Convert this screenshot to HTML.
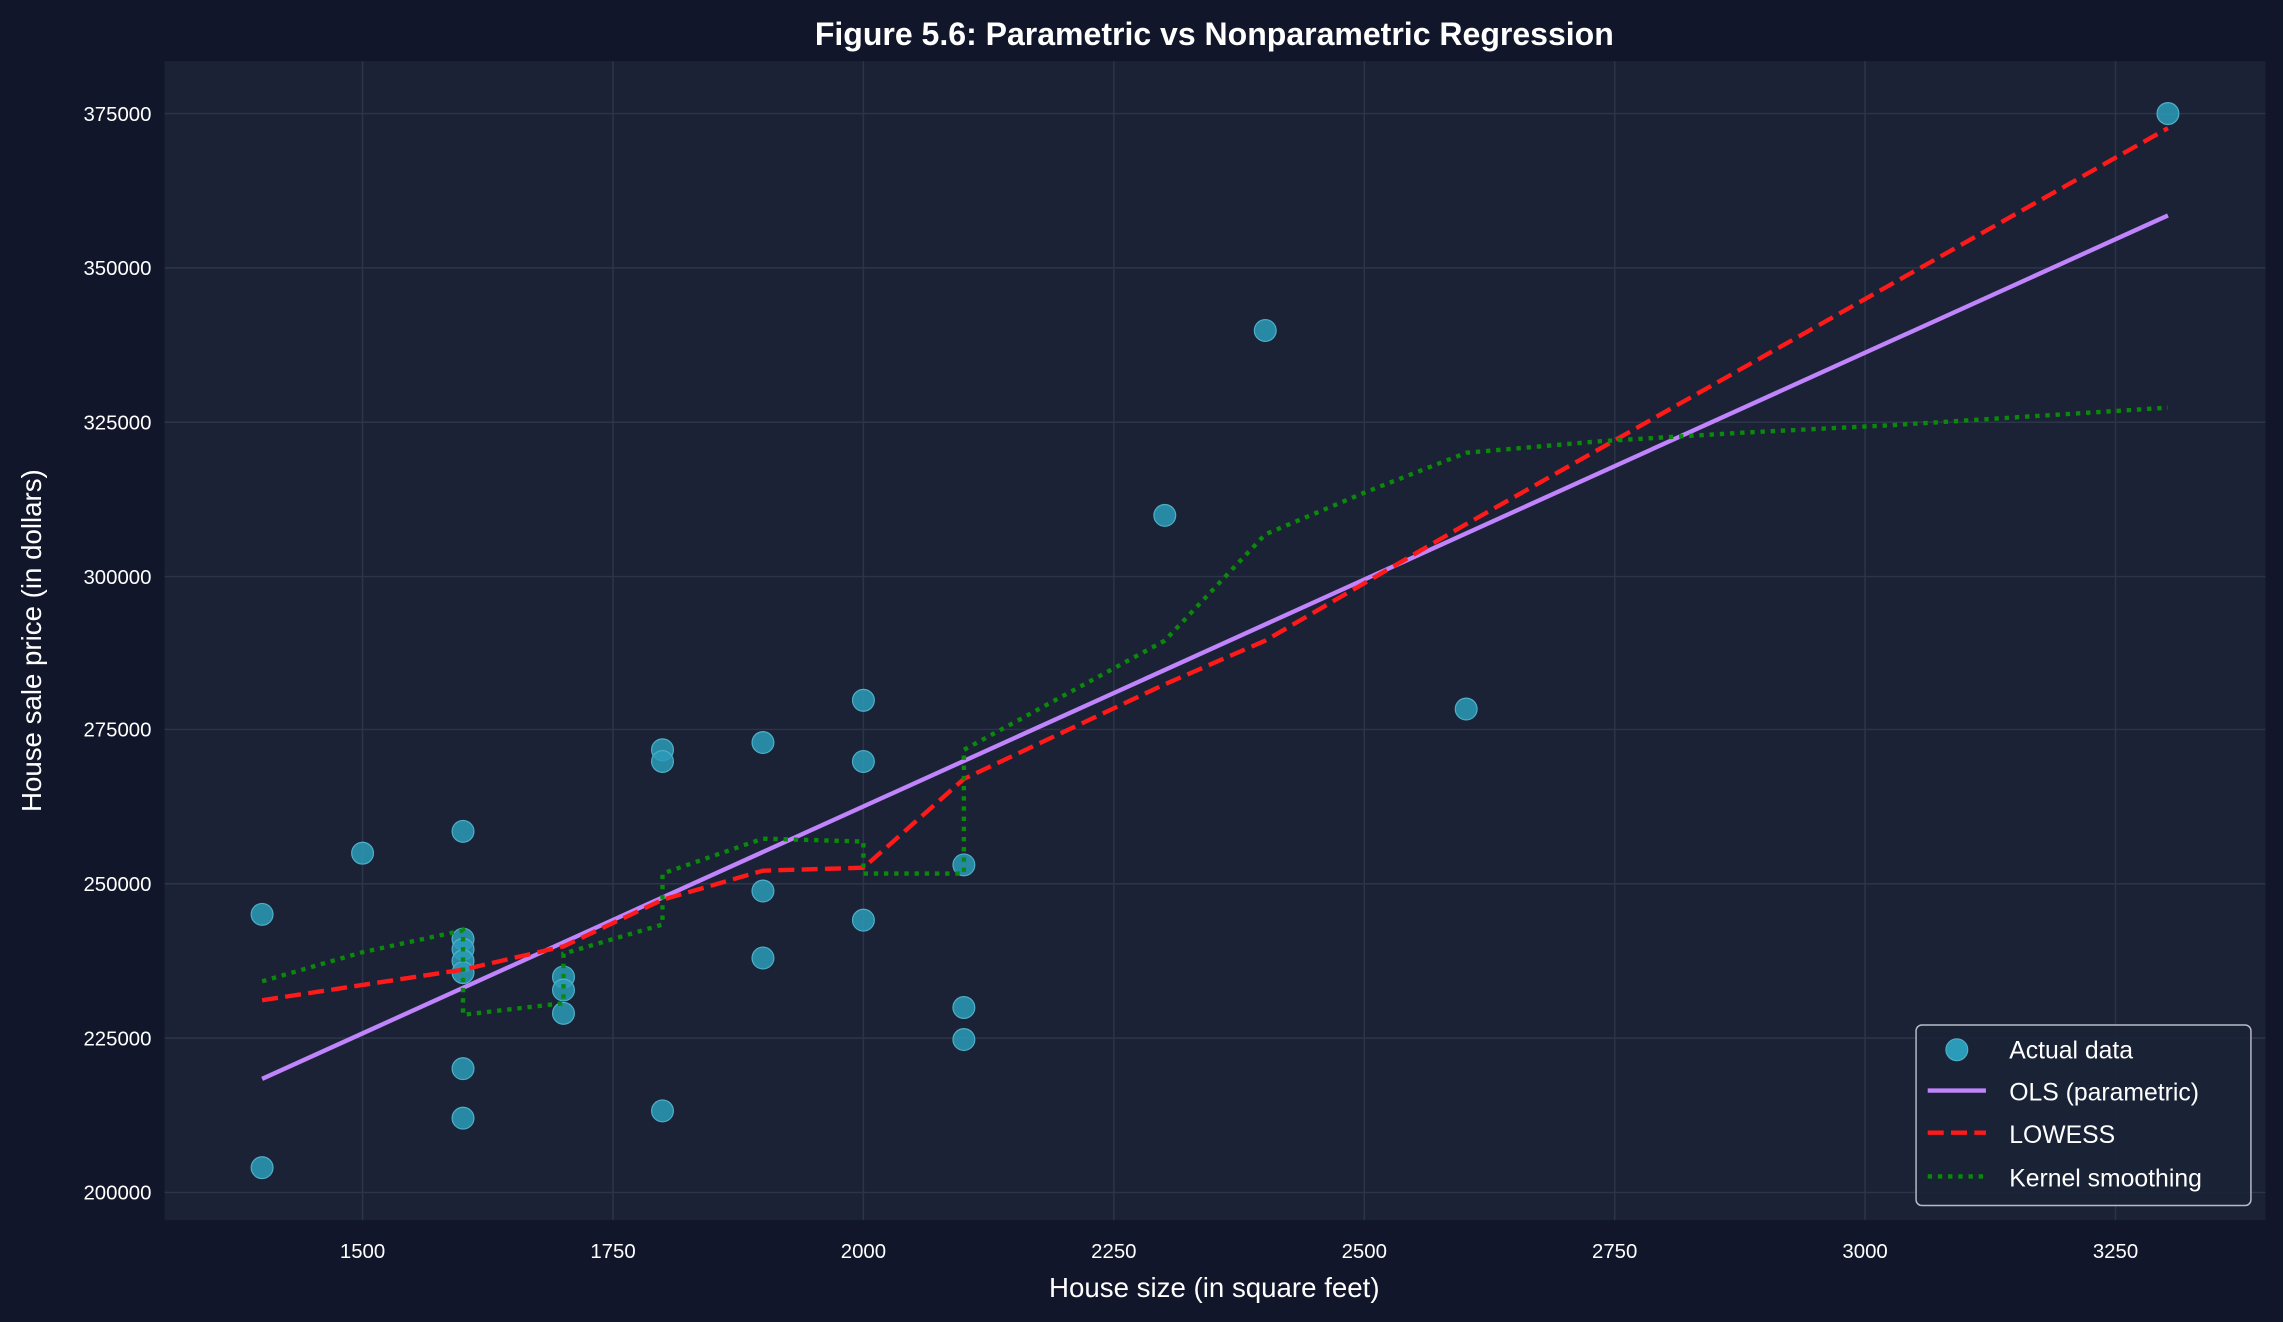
<!DOCTYPE html>
<html><head><meta charset="utf-8"><style>
html,body{margin:0;padding:0;background:#11162a;}
svg{display:block;}
text{font-family:"Liberation Sans",sans-serif;fill:#fff;}
</style></head><body>
<svg width="2283" height="1322" viewBox="0 0 1568 908" xmlns="http://www.w3.org/2000/svg">
<rect width="1568" height="908" fill="#11162a"/>
<rect x="113" y="42" width="1443" height="796" fill="#1b2236"/>
<g stroke="#2c3548" stroke-width="1">
<line x1="249" y1="42" x2="249" y2="838"/><line x1="421" y1="42" x2="421" y2="838"/>
<line x1="593" y1="42" x2="593" y2="838"/><line x1="765" y1="42" x2="765" y2="838"/>
<line x1="937" y1="42" x2="937" y2="838"/><line x1="1109" y1="42" x2="1109" y2="838"/>
<line x1="1281" y1="42" x2="1281" y2="838"/><line x1="1453" y1="42" x2="1453" y2="838"/>
<line x1="113" y1="819" x2="1556" y2="819"/><line x1="113" y1="713" x2="1556" y2="713"/>
<line x1="113" y1="607" x2="1556" y2="607"/><line x1="113" y1="501" x2="1556" y2="501"/>
<line x1="113" y1="396" x2="1556" y2="396"/><line x1="113" y1="290" x2="1556" y2="290"/>
<line x1="113" y1="184" x2="1556" y2="184"/><line x1="113" y1="78" x2="1556" y2="78"/>
</g>
<g font-size="14" text-anchor="middle">
<text x="249" y="864">1500</text><text x="421" y="864">1750</text><text x="593" y="864">2000</text>
<text x="765" y="864">2250</text><text x="937" y="864">2500</text><text x="1109" y="864">2750</text>
<text x="1281" y="864">3000</text><text x="1453" y="864">3250</text>
</g>
<g font-size="14" text-anchor="end">
<text x="104" y="824">200000</text><text x="104" y="718">225000</text><text x="104" y="612">250000</text>
<text x="104" y="506">275000</text><text x="104" y="401">300000</text><text x="104" y="295">325000</text>
<text x="104" y="189">350000</text><text x="104" y="83">375000</text>
</g>
<text x="834" y="891" font-size="19" text-anchor="middle">House size (in square feet)</text>
<text transform="translate(28,440) rotate(-90)" font-size="19" text-anchor="middle">House sale price (in dollars)</text>
<text x="834" y="31" font-size="22" font-weight="bold" text-anchor="middle">Figure 5.6: Parametric vs Nonparametric Regression</text>
<g fill="#2a9bb8" fill-opacity="0.85" stroke="#4fb0c8" stroke-width="0.8">
<circle cx="180" cy="628" r="7.5"/><circle cx="180" cy="802" r="7.5"/><circle cx="249" cy="586" r="7.5"/>
<circle cx="318" cy="571" r="7.5"/><circle cx="318" cy="645" r="7.5"/><circle cx="318" cy="652" r="7.5"/>
<circle cx="318" cy="660" r="7.5"/><circle cx="318" cy="668" r="7.5"/><circle cx="318" cy="734" r="7.5"/>
<circle cx="318" cy="768" r="7.5"/><circle cx="387" cy="671" r="7.5"/><circle cx="387" cy="680" r="7.5"/>
<circle cx="387" cy="696" r="7.5"/><circle cx="455" cy="515" r="7.5"/><circle cx="455" cy="523" r="7.5"/>
<circle cx="455" cy="763" r="7.5"/><circle cx="524" cy="510" r="7.5"/><circle cx="524" cy="612" r="7.5"/>
<circle cx="524" cy="658" r="7.5"/><circle cx="593" cy="481" r="7.5"/><circle cx="593" cy="523" r="7.5"/>
<circle cx="593" cy="632" r="7.5"/><circle cx="662" cy="594" r="7.5"/><circle cx="662" cy="692" r="7.5"/>
<circle cx="662" cy="714" r="7.5"/><circle cx="800" cy="354" r="7.5"/><circle cx="869" cy="227" r="7.5"/>
<circle cx="1007" cy="487" r="7.5"/><circle cx="1489" cy="78" r="7.5"/>
</g>
<line x1="180" y1="741" x2="1489" y2="148" stroke="#c084fc" stroke-width="3"/>
<polyline fill="none" stroke="#ff1a1a" stroke-width="3" stroke-dasharray="11,5" points="180,687 318,666 387,650 455,618 524,598 593,596 662,535 800,470 869,440 938,400 1007,360 1489,88"/>
<polyline fill="none" stroke="#0a8a0a" stroke-width="3" stroke-dasharray="3,4" points="180,674 249,654 318,639 318,697 387,689 387,655 455,635 455,600 524,576 593,578 593,600 662,600 662,515 800,440 869,367 938,338 1007,311 1100,303 1200,297 1300,292 1489,280"/>
<rect x="1316" y="704" width="230" height="124" rx="4" fill="#1b2236" fill-opacity="0.9" stroke="#b8bcc8" stroke-width="1"/>
<circle cx="1344" cy="721" r="7.5" fill="#2a9bb8" stroke="#4fb0c8" stroke-width="0.8"/>
<line x1="1324" y1="749" x2="1364" y2="749" stroke="#c084fc" stroke-width="3"/>
<line x1="1324" y1="778" x2="1364" y2="778" stroke="#ff1a1a" stroke-width="3" stroke-dasharray="11,5"/>
<line x1="1324" y1="808" x2="1364" y2="808" stroke="#0a8a0a" stroke-width="3" stroke-dasharray="3,4"/>
<g font-size="17">
<text x="1380" y="727">Actual data</text><text x="1380" y="756">OLS (parametric)</text>
<text x="1380" y="785">LOWESS</text><text x="1380" y="815">Kernel smoothing</text>
</g>
</svg>
</body></html>
